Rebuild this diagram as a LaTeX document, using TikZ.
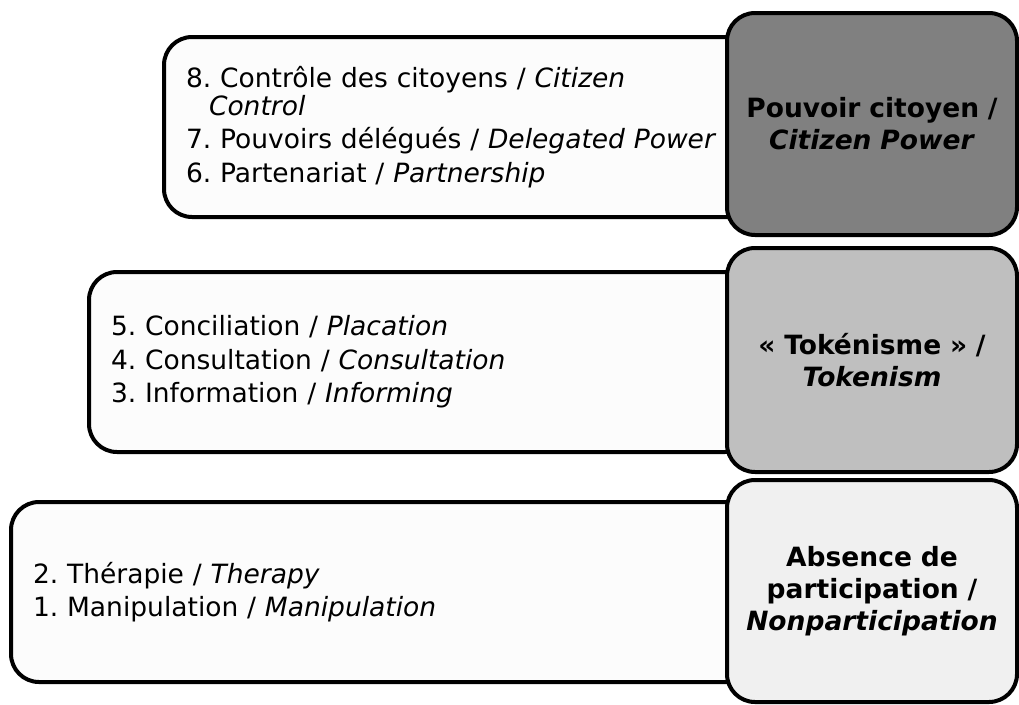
\documentclass[tikz,border=0pt]{standalone}
\usepackage{fontspec}
\setmainfont{DejaVu Sans}
\usetikzlibrary{positioning}
\frenchspacing
\definecolor{powergray}{gray}{0.5}
\definecolor{tokengray}{gray}{0.75}
\definecolor{nonpartgray}{gray}{0.94}
\definecolor{rungwhite}{gray}{0.99}
\tikzset{
  rung/.style={draw, line width=4pt, rounded corners=28pt, fill=rungwhite, anchor=west,
    minimum height=180pt, inner xsep=22pt, align=left, font=\fontsize{26.5}{33.5}\selectfont},
  level/.style={draw, line width=4pt, rounded corners=28pt, minimum width=290pt,
    minimum height=222pt, text width=270pt, align=center, font=\bfseries\fontsize{26.5}{32}\selectfont}
}
\begin{document}
\begin{tikzpicture}[x=1pt,y=-1pt]
		\useasboundingbox (0,0) rectangle (1019,704);
		% Rungs
		\node[rung, text width=560pt] (Control) at (162,127) {8. Contrôle des citoyens / \textit{Citizen}\\[-5.5pt]\hspace*{23pt}\textit{Control}\\7. Pouvoirs délégués / \textit{Delegated Power}\\6. Partenariat / \textit{Partnership}} ;
		\node[rung, text width=620pt] (Placation) at (87,362) {5. Conciliation / \textit{Placation}\\4. Consultation / \textit{Consultation}\\3. Information / \textit{Informing}} ;
		\node[rung, text width=700pt] (Therapy) at (9,592) {2. Thérapie / \textit{Therapy}\\1. Manipulation / \textit{Manipulation}} ;
		% Levels
		\node[level, fill=powergray] (Power) at (872,124) {Pouvoir citoyen /\\\textit{Citizen Power}} ;
		\node[level, fill=tokengray, minimum height=224pt] (Tokenism) at (872,360) {« Tokénisme » /\\\textit{Tokenism}} ;
		\node[level, fill=nonpartgray] (Nonpart) at (872,591) {Absence de\\participation /\\\textit{Nonparticipation}} ;
	\end{tikzpicture}
\end{document}
